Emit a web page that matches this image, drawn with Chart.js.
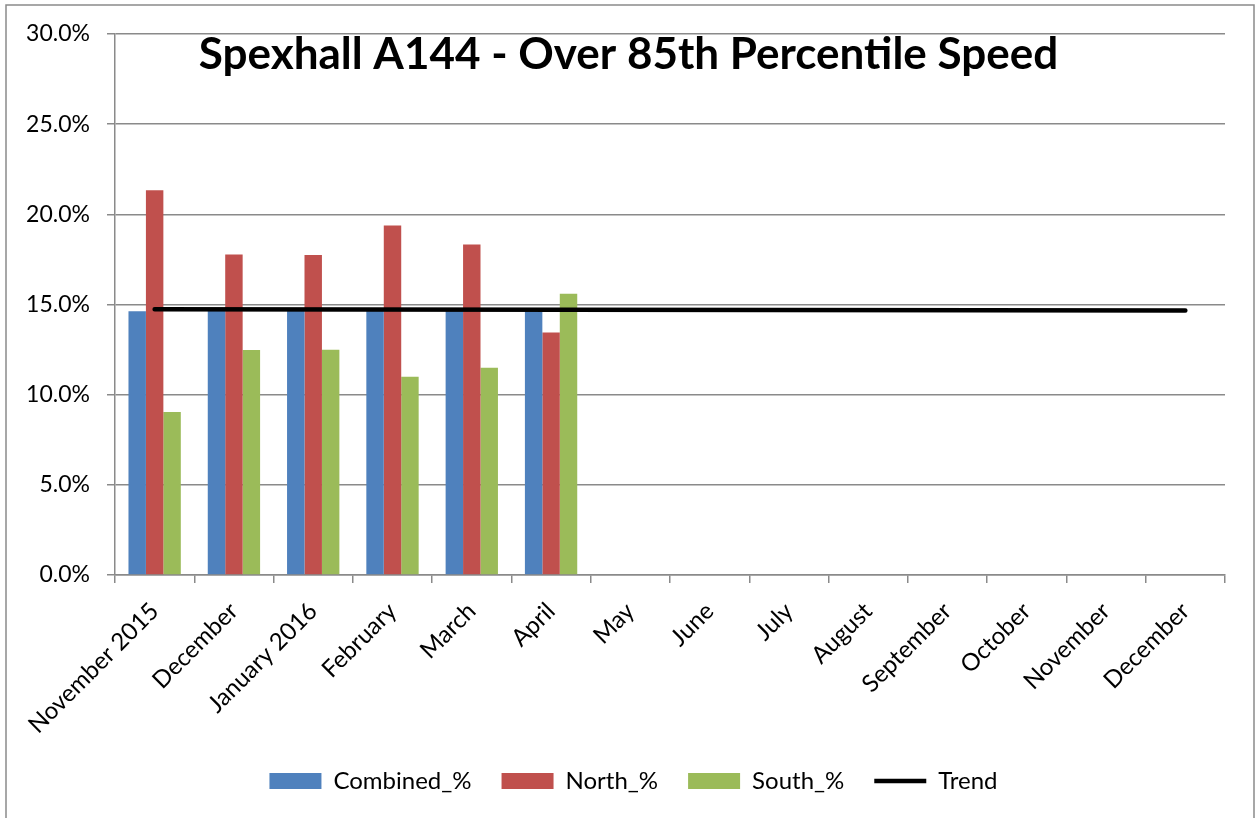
<!DOCTYPE html>
<html>
<head>
<meta charset="utf-8">
<script src="https://cdn.jsdelivr.net/npm/chart.js@4.4.1/dist/chart.umd.min.js"></script>
<style>
  html, body { margin: 0; padding: 0; background: #ffffff; }
  canvas { display: block; }
</style>
</head>
<body>
<canvas id="c" width="1258" height="818"></canvas>
<script>
const chartTitle = 'Spexhall A144 - Over 85th Percentile Speed';
const categories = ['November 2015', 'December', 'January 2016', 'February', 'March', 'April',
  'May', 'June', 'July', 'August', 'September', 'October', 'November', 'December'];
const combinedPct = [14.63, 14.75, 14.75, 14.75, 14.75, 14.75, null, null, null, null, null, null, null, null];
const northPct    = [21.33, 17.77, 17.75, 19.38, 18.33, 13.45, null, null, null, null, null, null, null, null];
const southPct    = [9.04, 12.47, 12.49, 10.99, 11.49, 15.59, null, null, null, null, null, null, null, null];
// trend line: only the two end points; Chart.js draws the straight line between them
const trendPct    = [14.74, null, null, null, null, null, null, null, null, null, null, null, null, 14.67];
const yTickValues = [0, 5, 10, 15, 20, 25, 30];

const GRID = '#8a8a8a';
const FONT = 'Lato';

const framePlugin = {
  id: 'frame',
  beforeDraw(chart) {
    const ctx = chart.ctx;
    ctx.save();
    ctx.fillStyle = '#ffffff';
    ctx.fillRect(0, 0, chart.width, chart.height);
    ctx.strokeStyle = GRID;
    ctx.lineWidth = 1.5;
    ctx.strokeRect(6, 5, 1248, 900);
    ctx.restore();
  },
  afterDraw(chart) {
    const ctx = chart.ctx;
    ctx.save();
    ctx.font = 'bold 44px ' + FONT;
    ctx.fillStyle = '#000000';
    ctx.textAlign = 'center';
    ctx.textBaseline = 'alphabetic';
    ctx.fillText(chartTitle, 628.5, 69);
    ctx.restore();
  }
};

new Chart(document.getElementById('c'), {
  data: {
    labels: categories,
    datasets: [
      { type: 'bar', label: 'Combined_%', data: combinedPct, backgroundColor: '#4F81BD', borderWidth: 0, pointStyle: 'rect' },
      { type: 'bar', label: 'North_%', data: northPct, backgroundColor: '#C0504D', borderWidth: 0, pointStyle: 'rect' },
      { type: 'bar', label: 'South_%', data: southPct, backgroundColor: '#9BBB59', borderWidth: 0, pointStyle: 'rect' },
      { type: 'line', label: 'Trend', data: trendPct, borderColor: '#000000', backgroundColor: '#000000',
        borderWidth: 4.5, borderCapStyle: 'round', pointRadius: 0, pointHoverRadius: 0, pointStyle: 'line',
        spanGaps: true, order: -1 }
    ]
  },
  options: {
    responsive: false,
    animation: false,
    devicePixelRatio: 1,
    layout: { padding: { left: 9, right: 0, top: 34, bottom: 15 } },
    datasets: { bar: { categoryPercentage: 0.66, barPercentage: 1.0 } },
    scales: {
      x: {
        offset: true,
        grid: { offset: true, drawOnChartArea: false, color: GRID, tickColor: GRID, tickLength: 8, lineWidth: 1.5 },
        border: { color: GRID, width: 1.5 },
        ticks: { autoSkip: false, minRotation: 45, maxRotation: 45, color: '#000000', padding: 14,
                 font: { family: FONT, size: 24 } },
        afterFit(scale) { scale.height = 164; }
      },
      y: {
        position: 'left',
        min: 0, max: 30,
        afterBuildTicks(scale) { scale.ticks = yTickValues.map(v => ({ value: v })); },
        grid: { color: GRID, tickColor: GRID, tickLength: 8, lineWidth: 1.5 },
        border: { color: GRID, width: 1.5 },
        ticks: { color: '#000000', padding: 17, font: { family: FONT, size: 23 },
                 callback: v => Number(v).toFixed(1) + '%' },
        afterFit(scale) { scale.width = 106; }
      },
      yRightSpace: {
        position: 'right',
        display: true,
        grid: { display: false, drawOnChartArea: false },
        border: { display: false },
        ticks: { display: false },
        afterFit(scale) { scale.width = 33; }
      }
    },
    plugins: {
      title: { display: false },
      tooltip: { enabled: false },
      legend: {
        position: 'bottom',
        labels: {
          usePointStyle: true, pointStyleWidth: 52, boxHeight: 16, padding: 30,
          color: '#000000', font: { family: FONT, size: 24 },
          sort: (a, b) => a.datasetIndex - b.datasetIndex
        }
      }
    }
  },
  plugins: [framePlugin]
});
</script>
</body>
</html>
